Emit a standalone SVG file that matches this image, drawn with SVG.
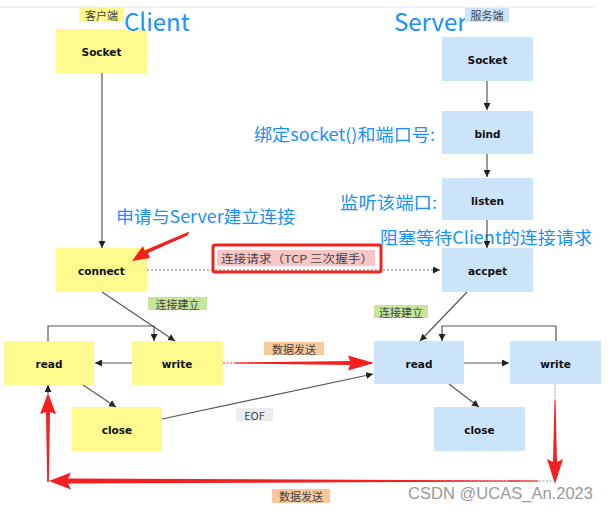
<svg xmlns="http://www.w3.org/2000/svg" width="610" height="512" viewBox="0 0 610 512">
<style>
.yb{fill:#fefa8e}
.bb{fill:#cce4fa}
.nt{font-family:"DejaVu Sans",sans-serif;font-weight:bold;font-size:10.5px;fill:#111;text-anchor:middle;dominant-baseline:central}
.bt{font-family:"Noto Sans CJK SC",sans-serif;fill:#1890ff}
.lt{font-family:"Noto Sans CJK SC",sans-serif;font-size:11px;fill:#444;dominant-baseline:central}
.ln{stroke:#555;stroke-width:1.2;fill:none}
.dl{stroke:#777;stroke-width:1.2;fill:none;stroke-dasharray:2 2}
.rd{fill:#f41f1f}
</style>
<defs>
<marker id="ah" viewBox="0 0 10 10" refX="10" refY="5" markerWidth="7" markerHeight="7" orient="auto" markerUnits="userSpaceOnUse">
<path d="M0,0 L10,5 L0,10 z" fill="#222"/>
</marker>
</defs>
<rect x="0" y="0" width="610" height="512" fill="#fff"/>
<line x1="0" y1="7" x2="595" y2="7" stroke="#e4e4e4" stroke-width="1"/>

<g id="c-socket"><rect class="yb" x="56" y="29" width="91" height="44"/><text class="nt" x="101.5" y="52">Socket</text></g>
<g id="c-connect"><rect class="yb" x="56" y="248" width="91" height="44"/><text class="nt" x="101.5" y="271">connect</text></g>
<g id="c-read"><rect class="yb" x="4" y="341" width="90" height="44"/><text class="nt" x="49" y="364">read</text></g>
<g id="c-write"><rect class="yb" x="132" y="341" width="91" height="44"/><text class="nt" x="177" y="364">write</text></g>
<g id="c-close"><rect class="yb" x="72" y="407" width="90" height="44"/><text class="nt" x="117" y="430">close</text></g>

<g id="s-socket"><rect class="bb" x="442" y="37" width="91" height="44"/><text class="nt" x="487.5" y="60">Socket</text></g>
<g id="s-bind"><rect class="bb" x="442" y="111" width="91" height="43"/><text class="nt" x="487.5" y="134">bind</text></g>
<g id="s-listen"><rect class="bb" x="442" y="178" width="91" height="42"/><text class="nt" x="487.5" y="201">listen</text></g>
<g id="s-accpet"><rect class="bb" x="442" y="248" width="91" height="44"/><text class="nt" x="487.5" y="271">accpet</text></g>
<g id="s-read"><rect class="bb" x="374" y="341" width="90" height="43"/><text class="nt" x="419" y="364">read</text></g>
<g id="s-write"><rect class="bb" x="510" y="341" width="91" height="43"/><text class="nt" x="555.5" y="364">write</text></g>
<g id="s-close"><rect class="bb" x="434" y="407" width="91" height="44"/><text class="nt" x="479.5" y="430">close</text></g>

<g id="titles">
<rect x="79" y="7" width="45" height="15" fill="#fefa8e"/>
<text class="lt" x="101.5" y="14.5" text-anchor="middle" font-size="12">客户端</text>
<text class="bt" x="124" y="31" font-size="24">Client</text>
<text class="bt" x="394" y="31" font-size="24">Server</text>
<rect x="465" y="8" width="44" height="14" fill="#cce4fa"/>
<text class="lt" x="487" y="15" text-anchor="middle" font-size="12">服务端</text>
</g>

<g id="annotations">
<text class="bt" x="254" y="141" font-size="17" textLength="181" lengthAdjust="spacingAndGlyphs">绑定socket()和端口号:</text>
<text class="bt" x="340" y="209" font-size="17" textLength="97" lengthAdjust="spacingAndGlyphs">监听该端口:</text>
<text class="bt" x="380" y="244" font-size="17" textLength="212" lengthAdjust="spacingAndGlyphs">阻塞等待Client的连接请求</text>
<text class="bt" x="116" y="223" font-size="17" textLength="179" lengthAdjust="spacingAndGlyphs">申请与Server建立连接</text>
<text x="408" y="499" font-family="Liberation Sans, sans-serif" font-size="16" fill="#999" textLength="185" lengthAdjust="spacingAndGlyphs">CSDN @UCAS_An.2023</text>
</g>

<g id="connectors">
<line class="ln" x1="102" y1="73" x2="102" y2="248" marker-end="url(#ah)"/>
<line class="ln" x1="487" y1="81" x2="487" y2="110" marker-end="url(#ah)"/>
<line class="ln" x1="487" y1="154" x2="487" y2="177" marker-end="url(#ah)"/>
<line class="ln" x1="487" y1="220" x2="487" y2="248" marker-end="url(#ah)"/>
<line class="dl" x1="147" y1="270" x2="440" y2="270" marker-end="url(#ah)"/>
<line class="ln" x1="102" y1="292" x2="175" y2="341" marker-end="url(#ah)"/>
<polyline class="ln" points="48,341 48,326 154,326 154,341" marker-end="url(#ah)"/>
<line class="ln" x1="132" y1="363" x2="95" y2="363" marker-end="url(#ah)"/>
<line class="ln" x1="83" y1="385" x2="116" y2="407" marker-end="url(#ah)"/>
<line class="ln" x1="162" y1="419" x2="373" y2="374" marker-end="url(#ah)"/>
<line class="ln" x1="467" y1="292" x2="420" y2="341" marker-end="url(#ah)"/>
<polyline class="ln" points="556,341 556,326 442,326 442,341" marker-end="url(#ah)"/>
<line class="ln" x1="464" y1="363" x2="509" y2="363" marker-end="url(#ah)"/>
<line class="ln" x1="449" y1="384" x2="479" y2="407" marker-end="url(#ah)"/>
<line x1="223" y1="363" x2="372" y2="363" stroke="#e33" stroke-width="1" stroke-dasharray="2 1.5"/>
<polygon class="rd" points="235,362.5 350,361 348,355.5 374,363 348,370.5 350,365 235,363.5"/>
<line x1="555" y1="384" x2="555" y2="482" stroke="#999" stroke-width="1" stroke-dasharray="2 1.5"/>
<polygon class="rd" points="554.5,400 553,462 547,459 555,484 563,459 557,462 555.5,400"/>
<line x1="555" y1="481" x2="48" y2="481" stroke="#999" stroke-width="1" stroke-dasharray="2 1.5"/>
<polygon class="rd" points="538,480.5 68,478.5 71,472.5 49,481 71,489.5 68,483.5 538,481.5"/>
<line x1="48" y1="481" x2="48" y2="387" stroke="#999" stroke-width="1" stroke-dasharray="2 1.5"/>
<polygon class="rd" points="48.8,482 50,412 56,414 48,393 40,414 46,412 47.2,482"/>
<line class="ln" x1="48" y1="393" x2="48" y2="385" marker-end="url(#ah)"/>
<polygon class="rd" points="189,232 187.5,235.5 148,253 150,258 132,261 143,246 144.5,250.5 188,232"/>
</g>

<g id="labels">
<rect x="213" y="245" width="168" height="27" fill="none" stroke="#e8251f" stroke-width="3" rx="2"/>
<rect x="217" y="250" width="158" height="16" fill="#f8c6c6"/>
<text class="lt" x="221" y="258" font-size="11.5" textLength="152" lengthAdjust="spacingAndGlyphs">连接请求（TCP 三次握手）</text>
<rect x="148" y="297" width="59" height="13" fill="#c5e59b"/>
<text class="lt" x="177.5" y="303.5" text-anchor="middle">连接建立</text>
<rect x="374" y="305" width="54" height="13" fill="#c5e59b"/>
<text class="lt" x="401" y="311.5" text-anchor="middle">连接建立</text>
<rect x="264" y="342" width="60" height="13" fill="#fbc89a"/>
<text class="lt" x="294" y="348.5" text-anchor="middle">数据发送</text>
<rect x="236" y="408" width="37" height="13" fill="#ececec"/>
<text class="lt" x="254.5" y="414.5" text-anchor="middle" font-family="Liberation Sans, sans-serif">EOF</text>
<rect x="272" y="489" width="58" height="14" fill="#fbc89a"/>
<text class="lt" x="301" y="496" text-anchor="middle">数据发送</text>
</g>
</svg>
